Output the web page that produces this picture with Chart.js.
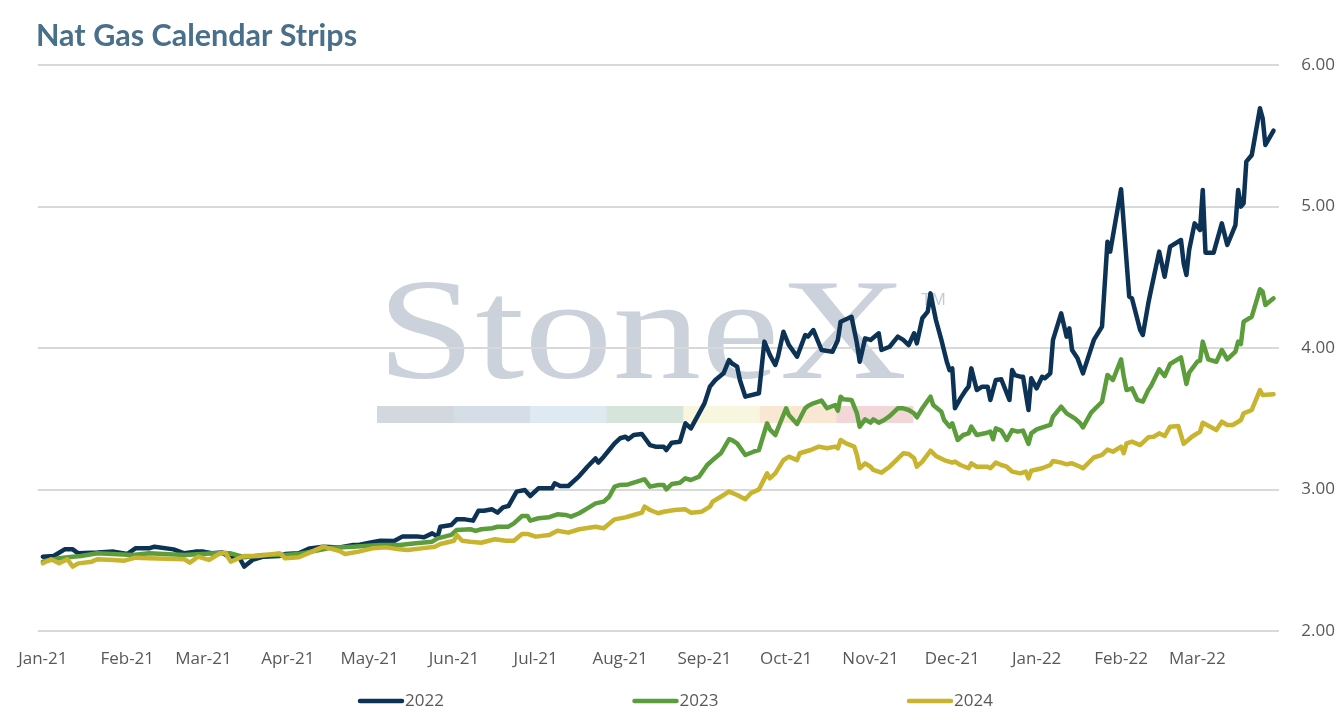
<!DOCTYPE html>
<html>
<head>
<meta charset="utf-8">
<script src="https://cdn.jsdelivr.net/npm/chart.js@4.4.1/dist/chart.umd.min.js"></script>
<style>
  html, body { margin: 0; padding: 0; background: #ffffff; }
  #wrap { width: 1344px; height: 722px; }
</style>
</head>
<body>
<div id="wrap"><canvas id="c" width="1344" height="722"></canvas></div>
<script>
// ---- Data (x = days since 1 Jan 2021) ----
const monthStarts = [0, 31, 59, 90, 120, 151, 181, 212, 243, 273, 304, 334, 365, 396, 424];
const monthLabels = ['Jan-21','Feb-21','Mar-21','Apr-21','May-21','Jun-21','Jul-21','Aug-21','Sep-21','Oct-21','Nov-21','Dec-21','Jan-22','Feb-22','Mar-22'];
const yTicks = [2, 3, 4, 5, 6];
const seriesLabels = ['2022', '2023', '2024'];

const days2022 = [0,4,8,11,13,20,26,31,34,39,41,48,52,56,59,62,66,69,72,74,77,81,87,89,94,98,103,109,114,116,120,124,129,132,138,140,143,145,146,150,152,155,158,160,162,165,167,169,171,174,177,179,182,187,188,190,193,197,200,203,204,206,208,210,212,214,215,217,220,223,225,228,229,231,234,236,238,241,243,245,247,250,252,253,255,256,258,263,265,267,269,270,272,274,277,280,281,283,286,290,292,293,297,299,300,302,304,307,308,311,314,316,318,320,321,323,325,326,328,330,332,333,334,335,337,339,340,341,343,345,347,348,350,352,355,356,357,359,360,362,363,365,367,368,370,371,374,376,377,378,380,382,386,389,391,392,396,399,400,403,404,406,407,410,412,414,418,419,420,421,423,425,426,427,430,433,435,438,439,440,441,442,444,447,448,449,452];
const vals2022 = [2.525,2.530,2.577,2.577,2.549,2.554,2.561,2.544,2.584,2.584,2.596,2.577,2.549,2.561,2.561,2.549,2.554,2.514,2.525,2.455,2.502,2.525,2.530,2.544,2.549,2.584,2.596,2.591,2.608,2.608,2.624,2.638,2.636,2.667,2.667,2.662,2.690,2.667,2.737,2.749,2.789,2.789,2.780,2.850,2.850,2.860,2.836,2.874,2.883,2.985,2.996,2.954,3.008,3.008,3.044,3.025,3.025,3.095,3.161,3.220,3.190,3.232,3.279,3.326,3.362,3.373,3.355,3.385,3.392,3.314,3.303,3.303,3.279,3.331,3.338,3.468,3.432,3.538,3.609,3.727,3.774,3.821,3.915,3.892,3.868,3.774,3.656,3.680,4.045,3.951,3.880,3.939,4.115,4.021,3.939,4.092,4.080,4.127,3.986,3.974,4.057,4.186,4.221,4.033,3.903,4.068,4.057,4.104,3.986,4.009,4.080,4.057,4.021,4.104,4.033,4.210,4.257,4.386,4.198,4.057,3.903,3.844,3.856,3.574,3.644,3.703,3.727,3.856,3.703,3.727,3.727,3.633,3.774,3.779,3.633,3.844,3.809,3.797,3.797,3.562,3.786,3.715,3.797,3.786,3.821,4.057,4.245,4.080,4.139,3.986,3.927,3.821,4.057,4.151,4.751,4.681,5.122,4.363,4.351,4.127,4.092,4.316,4.410,4.681,4.504,4.716,4.763,4.598,4.516,4.693,4.881,4.834,5.117,4.674,4.674,4.881,4.728,4.869,5.117,4.999,5.023,5.317,5.364,5.694,5.623,5.435,5.536];

const days2023 = [0,6,11,14,20,33,39,52,63,69,74,81,89,94,103,106,114,118,124,131,137,143,145,150,152,157,159,161,165,167,171,173,176,178,179,182,186,189,192,194,197,200,203,206,208,210,212,215,217,220,221,223,226,228,229,231,234,236,238,241,244,246,249,252,253,255,258,261,263,266,267,269,271,273,274,277,280,281,283,286,288,291,292,293,294,297,299,300,302,304,305,307,309,311,314,316,318,320,321,323,326,327,330,331,333,334,336,338,340,341,343,346,348,349,350,352,354,356,358,360,362,363,365,368,370,371,374,376,379,381,382,385,389,391,393,396,397,398,400,402,404,406,407,410,412,414,418,420,421,424,425,426,428,431,433,435,438,439,440,441,444,447,448,449,452];
const vals2023 = [2.490,2.514,2.525,2.530,2.549,2.537,2.549,2.537,2.549,2.549,2.521,2.537,2.537,2.544,2.577,2.589,2.596,2.601,2.608,2.608,2.620,2.631,2.655,2.679,2.714,2.719,2.707,2.719,2.726,2.737,2.737,2.761,2.813,2.813,2.780,2.797,2.804,2.825,2.820,2.808,2.832,2.867,2.902,2.914,2.949,3.020,3.032,3.036,3.048,3.067,3.072,3.020,3.032,3.032,3.001,3.039,3.048,3.079,3.067,3.091,3.173,3.208,3.256,3.355,3.350,3.326,3.244,3.267,3.279,3.468,3.425,3.385,3.479,3.574,3.526,3.463,3.574,3.590,3.609,3.628,3.574,3.597,3.557,3.656,3.637,3.633,3.538,3.444,3.496,3.472,3.496,3.472,3.491,3.519,3.574,3.574,3.562,3.538,3.510,3.574,3.656,3.597,3.550,3.491,3.444,3.468,3.350,3.385,3.397,3.444,3.385,3.397,3.409,3.355,3.432,3.416,3.350,3.420,3.409,3.416,3.322,3.397,3.425,3.444,3.456,3.515,3.585,3.538,3.503,3.468,3.439,3.543,3.620,3.809,3.774,3.920,3.797,3.703,3.715,3.633,3.621,3.703,3.731,3.849,3.802,3.887,3.934,3.746,3.826,3.903,3.910,4.045,3.920,3.903,3.986,3.920,3.974,4.045,4.028,4.186,4.221,4.415,4.398,4.304,4.351];

const days2024 = [0,3,6,9,11,13,18,20,26,30,34,39,52,54,57,61,65,67,69,72,74,79,87,89,94,98,103,109,111,116,121,126,131,134,139,144,146,151,152,154,157,161,166,170,173,176,178,181,186,189,193,197,203,206,210,214,217,220,221,223,226,228,232,236,238,242,245,246,249,252,255,258,260,263,266,267,269,272,274,277,278,282,285,288,291,292,293,295,298,299,300,302,304,305,308,311,316,318,320,321,323,326,328,331,334,335,337,340,341,343,347,348,350,352,354,356,359,361,362,363,367,370,371,374,376,378,381,382,386,389,391,393,396,397,398,400,403,406,408,410,412,414,417,419,422,425,426,431,433,435,437,439,440,441,444,447,448,452];
const vals2024 = [2.478,2.507,2.478,2.507,2.455,2.478,2.490,2.507,2.502,2.497,2.518,2.514,2.507,2.483,2.525,2.502,2.549,2.554,2.490,2.514,2.530,2.530,2.549,2.514,2.521,2.554,2.596,2.565,2.544,2.561,2.584,2.591,2.577,2.572,2.584,2.596,2.615,2.638,2.678,2.638,2.631,2.624,2.648,2.638,2.638,2.686,2.686,2.667,2.678,2.709,2.695,2.719,2.737,2.726,2.789,2.803,2.820,2.836,2.879,2.855,2.832,2.843,2.855,2.860,2.836,2.843,2.879,2.914,2.949,2.985,2.961,2.931,2.973,3.001,3.114,3.079,3.114,3.208,3.232,3.208,3.256,3.279,3.303,3.291,3.303,3.291,3.350,3.326,3.303,3.244,3.150,3.185,3.161,3.138,3.119,3.161,3.256,3.251,3.220,3.161,3.197,3.274,3.237,3.208,3.190,3.197,3.173,3.150,3.185,3.161,3.161,3.150,3.190,3.173,3.161,3.126,3.114,3.126,3.079,3.133,3.150,3.173,3.201,3.190,3.178,3.185,3.161,3.150,3.226,3.244,3.282,3.267,3.303,3.256,3.326,3.338,3.314,3.369,3.373,3.397,3.378,3.444,3.449,3.322,3.373,3.409,3.472,3.420,3.479,3.456,3.456,3.479,3.491,3.538,3.562,3.703,3.668,3.673];

const seriesColors = ['#0c3256', '#5b9d3b', '#c8b42e'];

// ---- helpers ----
const toPoints = (xs, ys) => xs.map((x, i) => ({ x: x, y: ys[i] }));
const TICK_FONT = { family: '"Open Sans", "Noto Sans", sans-serif', size: 17 };
const TEXT_GREY = '#595959';

// Watermark (drawn behind grid lines)
const watermark = {
  id: 'watermark',
  beforeDraw(chart) {
    const ctx = chart.ctx;
    ctx.save();
    const bandColors = ['#d3d8de', '#d5dde7', '#dfe9f2', '#d7e4d9', '#f8f6de', '#f9e7d4', '#f3d7d8'];
    const bx = 377, bw = 536, by = 406, bh = 17;
    const segW = bw / bandColors.length;
    bandColors.forEach((c, i) => {
      ctx.fillStyle = c;
      ctx.fillRect(bx + i * segW, by, segW + 0.5, bh);
    });
    ctx.fillStyle = '#cbd2db';
    ctx.font = '143px "Liberation Serif", "DejaVu Serif", serif';
    ctx.textBaseline = 'alphabetic';
    ctx.textAlign = 'left';
    const w = ctx.measureText('StoneX').width;
    ctx.translate(377, 378);
    ctx.scale(530 / w, 1);
    ctx.fillText('StoneX', 0, 0);
    ctx.restore();
    ctx.save();
    ctx.fillStyle = '#c3cbd5';
    ctx.font = '17px "Liberation Sans", sans-serif';
    ctx.textBaseline = 'alphabetic';
    ctx.fillText('TM', 921, 305);
    ctx.restore();
  }
};

// Bottom legend with line swatches
const lineLegend = {
  id: 'lineLegend',
  afterDraw(chart) {
    const ctx = chart.ctx;
    const pitch = 274.5, startX = 358, y = 701;
    ctx.save();
    ctx.font = '17px "Open Sans", "Noto Sans", sans-serif';
    ctx.textBaseline = 'middle';
    ctx.textAlign = 'left';
    chart.data.datasets.forEach((ds, i) => {
      const x = startX + i * pitch;
      ctx.strokeStyle = ds.borderColor;
      ctx.lineWidth = 4.5;
      ctx.lineCap = 'round';
      ctx.beginPath();
      ctx.moveTo(x + 2, y);
      ctx.lineTo(x + 44, y);
      ctx.stroke();
      ctx.fillStyle = TEXT_GREY;
      ctx.fillText(ds.label, x + 47, y);
    });
    ctx.restore();
  }
};

const datasets = [
  { label: seriesLabels[0], data: toPoints(days2022, vals2022), borderColor: seriesColors[0], backgroundColor: seriesColors[0], order: 3 },
  { label: seriesLabels[1], data: toPoints(days2023, vals2023), borderColor: seriesColors[1], backgroundColor: seriesColors[1], order: 2 },
  { label: seriesLabels[2], data: toPoints(days2024, vals2024), borderColor: seriesColors[2], backgroundColor: seriesColors[2], order: 1 }
].map(d => Object.assign(d, {
  borderWidth: 4.5, pointRadius: 0, pointHoverRadius: 0, tension: 0,
  borderJoinStyle: 'round', borderCapStyle: 'round', fill: false
}));

new Chart(document.getElementById('c'), {
  type: 'line',
  data: { datasets: datasets },
  plugins: [watermark, lineLegend],
  options: {
    responsive: false,
    animation: false,
    events: [],
    layout: { padding: { left: 36, right: 9, top: 0, bottom: 0 } },
    plugins: {
      legend: { display: false },
      tooltip: { enabled: false },
      title: {
        display: true,
        text: 'Nat Gas Calendar Strips',
        align: 'start',
        color: '#4a6f8b',
        font: { family: 'Lato, "Open Sans", sans-serif', size: 30.5, weight: 'bold' },
        padding: { top: 18, bottom: 10.4 }
      }
    },
    scales: {
      x: {
        type: 'linear',
        min: -1.85,
        max: 454,
        grid: { display: false, drawTicks: false },
        border: { display: false },
        ticks: {
          autoSkip: false,
          maxRotation: 0,
          minRotation: 0,
          padding: 18,
          color: TEXT_GREY,
          font: TICK_FONT,
          callback: function (v) {
            const i = monthStarts.indexOf(v);
            return i >= 0 ? monthLabels[i] : '';
          }
        },
        afterBuildTicks: function (scale) {
          scale.ticks = monthStarts.map(v => ({ value: v }));
        },
        afterFit: function (scale) { scale.height = 91; }
      },
      y: {
        position: 'right',
        min: yTicks[0],
        max: yTicks[yTicks.length - 1],
        grid: { color: '#d9d9d9', lineWidth: 2, drawTicks: false },
        border: { display: false },
        ticks: {
          stepSize: 1,
          crossAlign: 'far',
          color: TEXT_GREY,
          font: TICK_FONT,
          callback: v => Number(v).toFixed(2)
        },
        afterBuildTicks: function (scale) {
          scale.ticks = yTicks.map(v => ({ value: v }));
        },
        afterFit: function (scale) { scale.width = 56; }
      }
    }
  }
});
</script>
</body>
</html>
